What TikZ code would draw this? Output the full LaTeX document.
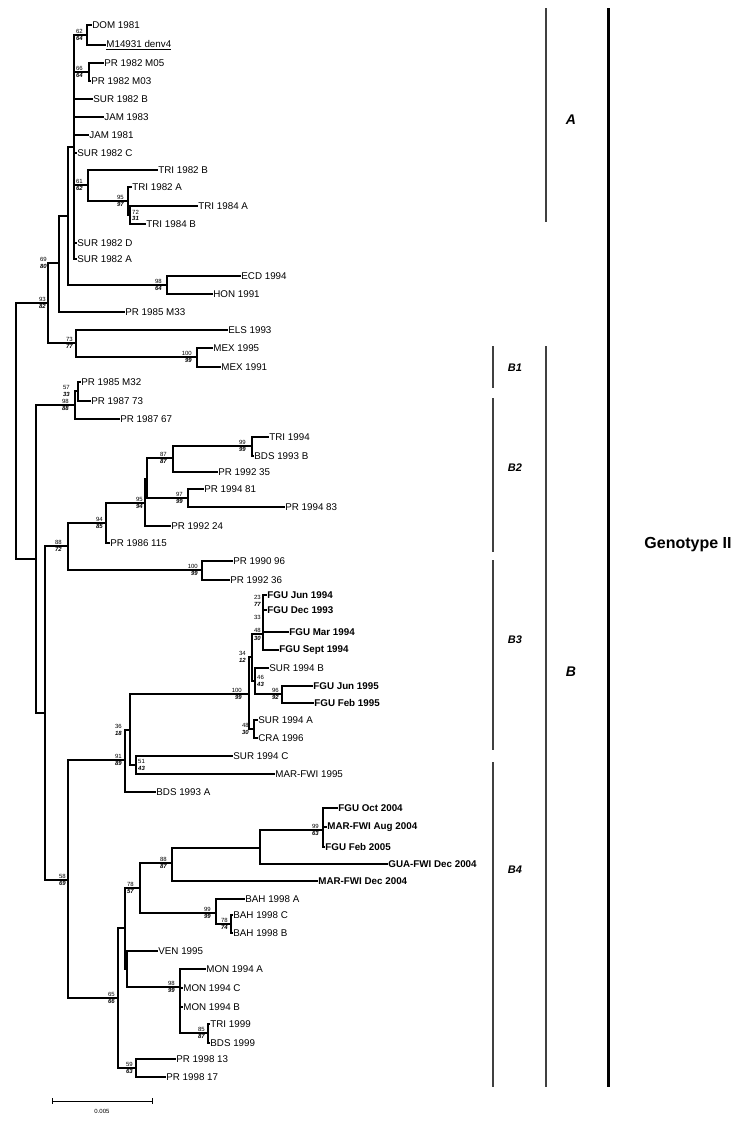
\documentclass[tikz,border=0pt]{standalone}
\usepackage{fontspec}
\setmainfont{Liberation Sans}
\tikzset{
 br/.style={line width=1.7pt, line cap=rect},
 tip/.style={anchor=west, inner sep=1.2pt, font=\fontsize{9.8}{11}\selectfont},
 tipb/.style={tip, font=\fontsize{9.8}{11}\selectfont\bfseries},
 bsu/.style={inner sep=0pt, font=\fontsize{6}{6.5}\selectfont},
 bsd/.style={inner sep=0pt, font=\fontsize{6}{6.5}\selectfont\bfseries\itshape},
 cbar/.style={line width=2pt, draw=black!75},
 gbar/.style={line width=3pt, draw=black},
 clade/.style={font=\fontsize{14}{16}\selectfont\bfseries\itshape},
 subclade/.style={font=\fontsize{11}{13}\selectfont\bfseries\itshape},
}
% tip: [style]{name}{x}{y}{text}{parent}
\newcommand\tipn[6][tip]{\node[#1] (#2) at (#3,#4) {#5}; \draw[br] (#6) |- (#2.west);}
\newcommand\brn[2]{\draw[br] (#1) |- (#2);}
% bootstrap left of node: [dx]{node}{up}{down}
\newcommand\bsl[4][-3]{\node[bsu,anchor=south east] (#2u) at ([xshift=#1pt,yshift=0.8pt]#2) {#3};
 \node[bsd,anchor=north east] (#2d) at ([xshift=#1pt,yshift=-0.8pt]#2) {#4};}
% bootstrap right of node
\newcommand\bsr[4][2]{\node[bsu,anchor=south west] (#2u) at ([xshift=#1pt,yshift=0.8pt]#2) {#3};
 \node[bsd,anchor=north west] (#2d) at ([xshift=#1pt,yshift=-0.8pt]#2) {#4};}
\begin{document}
\begin{tikzpicture}[x=1pt,y=-1pt]
\useasboundingbox (0,0) rectangle (750,1128);
% internal nodes
\coordinate (nDM) at (87,35);
\coordinate (nPR82) at (89,72);
\coordinate (nA) at (74,147);
\coordinate (nTRI) at (88,185);
\coordinate (nTRIa) at (128,201);
\coordinate (nTRIb) at (130,215);
\coordinate (nAE) at (68,216);
\coordinate (nECD) at (167,285);
\coordinate (nAP) at (59,263);
\coordinate (nTop) at (48,303);
\coordinate (nELS) at (76,343);
\coordinate (nMEX) at (197,357);
\coordinate (root) at (16,431);
\coordinate (nB) at (36,559);
\coordinate (nB1) at (75,405);
\coordinate (nB1a) at (78,391);
\coordinate (nBtw) at (45,713);
\coordinate (nB2) at (68,546);
\coordinate (nB2a) at (106,523);
\coordinate (nB2c) at (145,503);
\coordinate (nB2d) at (147,479);
\coordinate (nB2e) at (173,458);
\coordinate (nTB) at (252,446);
\coordinate (nPR94) at (188,498);
\coordinate (nB2b) at (202,570);
\coordinate (nBth) at (68,880);
\coordinate (nB3) at (125,760);
\coordinate (nB3a) at (130,730);
\coordinate (nSM) at (136,765);
\coordinate (nB3b) at (249,694);
\coordinate (nSC) at (254,729);
\coordinate (nB3c) at (252,657);
\coordinate (nF) at (263,634);
\coordinate (nSF) at (255,681);
\coordinate (nF95) at (282,694);
\coordinate (nB4) at (118,998);
\coordinate (nB4a) at (125,928);
\coordinate (nB4b) at (140,888);
\coordinate (nB4c) at (172,863);
\coordinate (nB4d) at (260,848);
\coordinate (nFM) at (323,830);
\coordinate (nBAH) at (216,913);
\coordinate (nBAHb) at (231,924);
\coordinate (nVM) at (127,969);
\coordinate (nMON) at (180,987);
\coordinate (nTB99) at (208,1033);
\coordinate (nPR98) at (136,1068);
% internal branches
\brn{nA}{nDM} \brn{nA}{nPR82} \brn{nA}{nTRI} \brn{nTRI}{nTRIa} \brn{nTRIa}{nTRIb}
\brn{nAE}{nA} \brn{nAE}{nECD} \brn{nAP}{nAE} \brn{nTop}{nAP} \brn{nTop}{nELS}
\brn{nELS}{nMEX} \brn{root}{nTop} \brn{root}{nB} \brn{nB}{nB1} \brn{nB1}{nB1a}
\brn{nB}{nBtw} \brn{nBtw}{nB2} \brn{nBtw}{nBth} \brn{nB2}{nB2a} \brn{nB2}{nB2b}
\brn{nB2a}{nB2c} \brn{nB2c}{nB2d} \brn{nB2d}{nB2e} \brn{nB2d}{nPR94} \brn{nB2e}{nTB}
\brn{nBth}{nB3} \brn{nBth}{nB4} \brn{nB3}{nB3a} \brn{nB3a}{nB3b} \brn{nB3a}{nSM}
\brn{nB3b}{nB3c} \brn{nB3b}{nSC} \brn{nB3c}{nF} \brn{nB3c}{nSF} \brn{nSF}{nF95}
\brn{nB4}{nB4a} \brn{nB4}{nPR98} \brn{nB4a}{nB4b} \brn{nB4a}{nVM} \brn{nB4b}{nB4c}
\brn{nB4b}{nBAH} \brn{nB4c}{nB4d} \brn{nB4d}{nFM} \brn{nBAH}{nBAHb} \brn{nVM}{nMON}
\brn{nMON}{nTB99}
% tips
\tipn{tDOM}{91}{25}{DOM 1981}{nDM}
\tipn{tM149}{105}{45}{\underline{M14931 denv4}}{nDM}
\tipn{tM05}{103}{63}{PR 1982 M05}{nPR82}
\tipn{tM03}{90}{81}{PR 1982 M03}{nPR82}
\tipn{tSURB}{92}{99}{SUR 1982 B}{nA}
\tipn{tJAMa}{103}{117}{JAM 1983}{nA}
\tipn{tJAMb}{88}{135}{JAM 1981}{nA}
\tipn{tSURC}{76}{153}{SUR 1982 C}{nA}
\tipn{tTRIa}{157}{170}{TRI 1982 B}{nTRI}
\tipn{tTRIb}{131}{187}{TRI 1982 A}{nTRIa}
\tipn{tTRIc}{197}{206}{TRI 1984 A}{nTRIb}
\tipn{tTRId}{145}{224}{TRI 1984 B}{nTRIb}
\tipn{tSURD}{76}{243}{SUR 1982 D}{nA}
\tipn{tSURA}{76}{259}{SUR 1982 A}{nA}
\tipn{tECD}{240}{276}{ECD 1994}{nECD}
\tipn{tHON}{212}{294}{HON 1991}{nECD}
\tipn{tM33}{124}{312}{PR 1985 M33}{nAP}
\tipn{tELS}{227}{330}{ELS 1993}{nELS}
\tipn{tMEXa}{212}{348}{MEX 1995}{nMEX}
\tipn{tMEXb}{220}{367}{MEX 1991}{nMEX}
\tipn{tM32}{80}{382}{PR 1985 M32}{nB1a}
\tipn{tPRa}{90}{401}{PR 1987 73}{nB1a}
\tipn{tPRb}{119}{419}{PR 1987 67}{nB1}
\tipn{tTRIe}{268}{437}{TRI 1994}{nTB}
\tipn{tBDSb}{253}{456}{BDS 1993 B}{nTB}
\tipn{tPRc}{217}{472}{PR 1992 35}{nB2e}
\tipn{tPRd}{203}{489}{PR 1994 81}{nPR94}
\tipn{tPRe}{284}{507}{PR 1994 83}{nPR94}
\tipn{tPRf}{170}{526}{PR 1992 24}{nB2c}
\tipn{tPRg}{109}{543}{PR 1986 115}{nB2a}
\tipn{tPRh}{232}{561}{PR 1990 96}{nB2b}
\tipn{tPRi}{229}{580}{PR 1992 36}{nB2b}
\tipn[tipb]{tFa}{266}{595}{FGU Jun 1994}{nF}
\tipn[tipb]{tFb}{266}{610}{FGU Dec 1993}{nF}
\tipn[tipb]{tFc}{288}{632}{FGU Mar 1994}{nF}
\tipn[tipb]{tFd}{278}{650}{FGU Sept 1994}{nF}
\tipn{tSURE}{268}{668}{SUR 1994 B}{nSF}
\tipn[tipb]{tFe}{312}{686}{FGU Jun 1995}{nF95}
\tipn[tipb]{tFf}{313}{703}{FGU Feb 1995}{nF95}
\tipn{tSURF}{257}{720}{SUR 1994 A}{nSC}
\tipn{tCRA}{257}{738}{CRA 1996}{nSC}
\tipn{tSURG}{232}{756}{SUR 1994 C}{nSM}
\tipn{tMARa}{274}{774}{MAR-FWI 1995}{nSM}
\tipn{tBDSa}{155}{792}{BDS 1993 A}{nB3}
\tipn[tipb]{tFg}{337}{808}{FGU Oct 2004}{nFM}
\tipn[tipb]{tMARb}{326}{827}{MAR-FWI Aug 2004}{nFM}
\tipn[tipb]{tFh}{324}{847}{FGU Feb 2005}{nFM}
\tipn[tipb]{tGUA}{387}{864}{GUA-FWI Dec 2004}{nB4d}
\tipn[tipb]{tMARc}{317}{881}{MAR-FWI Dec 2004}{nB4c}
\tipn{tBAHa}{244}{899}{BAH 1998 A}{nBAH}
\tipn{tBAHb}{232}{915}{BAH 1998 C}{nBAHb}
\tipn{tBAHc}{232}{933}{BAH 1998 B}{nBAHb}
\tipn{tVEN}{157}{951}{VEN 1995}{nVM}
\tipn{tMONa}{205}{969}{MON 1994 A}{nMON}
\tipn{tMONb}{182}{988}{MON 1994 C}{nMON}
\tipn{tMONc}{182}{1007}{MON 1994 B}{nMON}
\tipn{tTRIf}{209}{1024}{TRI 1999}{nTB99}
\tipn{tBDSc}{209}{1043}{BDS 1999}{nTB99}
\tipn{tPRj}{175}{1059}{PR 1998 13}{nPR98}
\tipn{tPRk}{165}{1077}{PR 1998 17}{nPR98}
% bootstrap values
\bsl[-4]{nDM}{62}{64}
\bsl[-6]{nPR82}{66}{64}
\bsl[-5]{nTRI}{61}{62}
\bsl[-4]{nTRIa}{95}{97}
\bsr{nTRIb}{72}{31}
\bsl[-12]{nAP}{69}{80}
\bsl[-2]{nTop}{93}{82}
\bsl[-5]{nECD}{98}{64}
\bsl[-3]{nELS}{73}{77}
\bsl[-5]{nMEX}{100}{99}
\bsl[-8]{nB1a}{57}{33}
\bsl[-6]{nB1}{98}{88}
\bsl[-6]{nB2}{88}{72}
\bsl[-3]{nB2a}{94}{85}
\bsl[-2]{nB2c}{95}{94}
\bsl[-6]{nB2e}{87}{87}
\bsl[-6]{nTB}{99}{99}
\bsl[-5]{nPR94}{97}{99}
\bsl[-4]{nB2b}{100}{99}
\node[bsu,anchor=east] (fa) at (261,597) {23};
\node[bsd,anchor=east] (fb) at (261,604) {77};
\node[bsu,anchor=east] (fc) at (261,617) {33};
\node[bsu,anchor=east] (fd) at (261,630) {48};
\node[bsd,anchor=east] (fe) at (261,638) {30};
\bsl[-6]{nB3c}{34}{12}
\bsr{nSF}{46}{43}
\bsl[-3]{nF95}{96}{92}
\bsl[-7]{nB3b}{100}{99}
\bsl[-5]{nSC}{48}{30}
\bsl[-8]{nB3a}{36}{18}
\bsr{nSM}{51}{43}
\bsl[-3]{nB3}{91}{89}
\bsl[-2]{nBth}{58}{69}
\bsl[-5]{nB4c}{88}{87}
\bsl[-4]{nFM}{99}{63}
\bsl[-6]{nB4b}{78}{57}
\bsl[-5]{nBAH}{99}{99}
\bsl[-3]{nBAHb}{78}{74}
\bsl[-5]{nMON}{98}{99}
\bsl[-3]{nTB99}{85}{87}
\bsl[-3]{nB4}{65}{66}
\bsl[-3]{nPR98}{59}{63}
% scale bar
\coordinate (sa) at (52,1101);
\coordinate (sb) at (152,1101);
\draw[line width=1pt] (sa) -- (sb);
\draw[line width=1pt] ([yshift=3pt]sa) -- ([yshift=-3pt]sa);
\draw[line width=1pt] ([yshift=3pt]sb) -- ([yshift=-3pt]sb);
\node[bsu] (sl) at (102,1111) {0.005};
% clade bars
\draw[cbar] (546,8) -- (546,222);
\node[clade] (lA) at (571,120) {A};
\draw[cbar] (546,346) -- (546,1087);
\node[clade] (lB) at (571,672) {B};
\draw[gbar] (608,8) -- (608,1087);
\node[font=\fontsize{16}{18}\selectfont\bfseries] (lG) at (688,545) {Genotype II};
\draw[cbar] (493,346) -- (493,388);
\node[subclade] (lB1) at (515,368) {B1};
\draw[cbar] (493,398) -- (493,552);
\node[subclade] (lB2) at (515,468) {B2};
\draw[cbar] (493,560) -- (493,750);
\node[subclade] (lB3) at (515,640) {B3};
\draw[cbar] (493,762) -- (493,1087);
\node[subclade] (lB4) at (515,870) {B4};
\end{tikzpicture}
\end{document}
